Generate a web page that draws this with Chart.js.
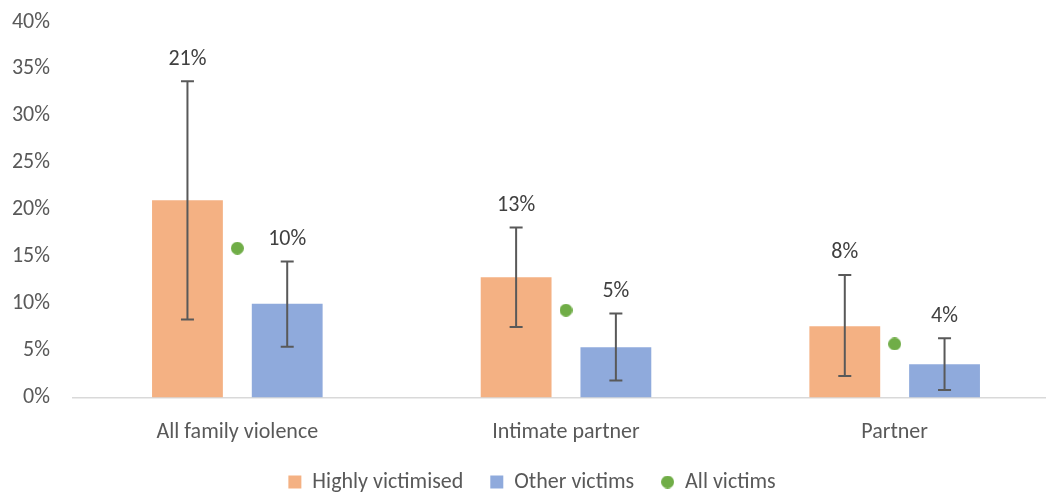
<!DOCTYPE html>
<html>
<head>
<meta charset="utf-8">
<script src="https://cdn.jsdelivr.net/npm/chart.js@4.4.1/dist/chart.umd.min.js"></script>
<style>
  html, body { margin: 0; padding: 0; background: #fff; overflow: hidden; }
  #wrap { position: relative; width: 1064px; height: 503px; }
</style>
</head>
<body>
<div id="wrap"><canvas id="chart"></canvas></div>
<script>
// Donnees (en %)
const categories = ['All family violence', 'Intimate partner', 'Partner']
const highlyVictimised = [21.0, 12.8, 7.6]
const highlyLow = [8.3, 7.5, 2.3]
const highlyHigh = [33.7, 18.1, 13.05]
const otherVictims = [10.0, 5.35, 3.55]
const otherLow = [5.4, 1.8, 0.8]
const otherHigh = [14.5, 8.95, 6.3]
const allVictims = [15.9, 9.3, 5.7]
const yTicks = [0, 5, 10, 15, 20, 25, 30, 35, 40]

const FONT = 'Carlito, Calibri, Lato, sans-serif'
Chart.defaults.font.family = FONT
Chart.defaults.font.size = 22
Chart.defaults.color = '#595959'

// Pastille verte (points + legende)
const dot = document.createElement('canvas')
dot.width = 13
dot.height = 13
const dctx = dot.getContext('2d')
dctx.fillStyle = '#70ad47'
dctx.beginPath()
dctx.arc(6.5, 6.5, 6.5, 0, Math.PI * 2)
dctx.fill()

// Barres d'erreur + etiquettes au-dessus
const errorBars = {
    id: 'errorBars',
    afterDatasetsDraw(chart) {
        const { ctx, scales: { y } } = chart
        const sets = [
            [highlyLow, highlyHigh, highlyVictimised],
            [otherLow, otherHigh, otherVictims]
        ]
        sets.forEach(([lo, hi, vals], di) => {
            chart.getDatasetMeta(di).data.forEach((bar, i) => {
                const top = y.getPixelForValue(hi[i])
                const bot = y.getPixelForValue(lo[i])
                ctx.save()
                ctx.strokeStyle = '#595959'
                ctx.lineWidth = 2
                ctx.beginPath()
                ctx.moveTo(bar.x, top)
                ctx.lineTo(bar.x, bot)
                ctx.moveTo(bar.x - 6.5, top)
                ctx.lineTo(bar.x + 6.5, top)
                ctx.moveTo(bar.x - 6.5, bot)
                ctx.lineTo(bar.x + 6.5, bot)
                ctx.stroke()
                ctx.fillStyle = '#404040'
                ctx.font = '22px ' + FONT
                ctx.textAlign = 'center'
                ctx.textBaseline = 'middle'
                ctx.fillText(Math.round(vals[i]) + '%', bar.x, top - 22)
                ctx.restore()
            })
        })
    }
}

new Chart(document.getElementById('chart'), {
    type: 'bar',
    data: {
        labels: categories,
        datasets: [
            {
                label: 'Highly victimised',
                data: highlyVictimised,
                backgroundColor: '#f4b183',
                pointStyle: 'rect',
                categoryPercentage: 0.607,
                barPercentage: 0.71
            },
            {
                label: 'Other victims',
                data: otherVictims,
                backgroundColor: '#8faadc',
                pointStyle: 'rect',
                categoryPercentage: 0.607,
                barPercentage: 0.71
            },
            {
                type: 'line',
                label: 'All victims',
                data: allVictims,
                showLine: false,
                pointStyle: dot,
                backgroundColor: '#70ad47',
                borderColor: '#70ad47'
            }
        ]
    },
    options: {
        responsive: true,
        maintainAspectRatio: false,
        animation: false,
        layout: { padding: { top: 22, left: 0, right: 0, bottom: 0 } },
        plugins: {
            tooltip: { enabled: false },
            legend: {
                position: 'bottom',
                labels: {
                    usePointStyle: true,
                    boxWidth: 13,
                    boxHeight: 13,
                    padding: 27,
                    color: '#595959',
                    font: { size: 22 }
                }
            }
        },
        scales: {
            x: {
                grid: { display: false, drawTicks: false },
                border: { display: true, color: '#d9d9d9', width: 1.5 },
                ticks: { padding: 22, color: '#595959' },
                afterFit: s => { s.height = 46.5 }
            },
            y: {
                min: 0,
                max: 40,
                grid: { display: false, drawTicks: false },
                border: { display: false },
                ticks: { padding: 23, color: '#595959', callback: v => v + '%' },
                afterBuildTicks: s => { s.ticks = yTicks.map(v => ({ value: v })) },
                afterFit: s => {
                    s.width = 73
                    s.paddingTop = 0
                    s.paddingBottom = 0
                }
            },
            yRight: {
                position: 'right',
                grid: { display: false, drawTicks: false },
                border: { display: false },
                ticks: { display: false },
                afterFit: s => { s.width = 3 }
            }
        }
    },
    plugins: [errorBars]
})
</script>
</body>
</html>
